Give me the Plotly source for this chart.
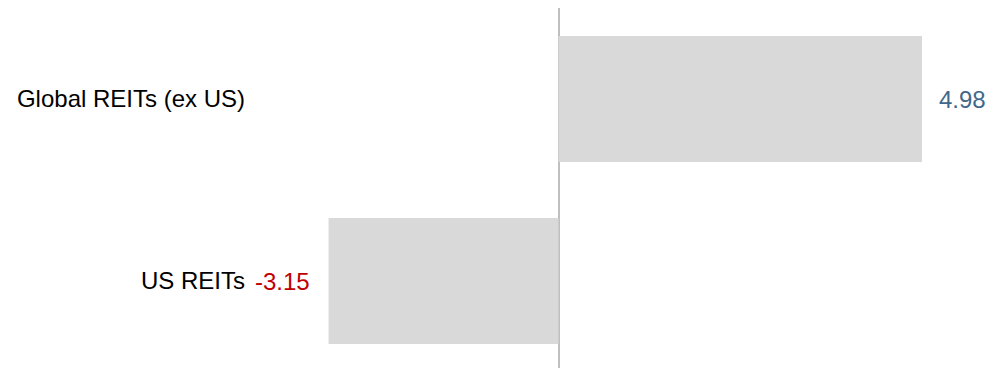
import plotly.graph_objects as go

categories = ["US REITs", "Global REITs (ex US)"]
values = [-3.15, 4.98]
label_colors = ["#c00000", "#41688a"]

FONT = "Liberation Sans, Arial, sans-serif"
FS = 24
PX_PER_UNIT = 73.0
L = 238
W = 1004
ZERO_PX = 550.5
x_min = -(ZERO_PX - L) / PX_PER_UNIT
x_max = (W - ZERO_PX) / PX_PER_UNIT

fig = go.Figure()
fig.add_trace(go.Bar(
    y=categories, x=values, orientation="h",
    marker=dict(color="#d9d9d9", line=dict(width=0)),
    hoverinfo="skip",
))

for c, v, col in zip(categories, values, label_colors):
    fig.add_annotation(
        x=v, y=c, text=f"{v:.2f}", showarrow=False,
        xanchor="left" if v >= 0 else "right",
        xshift=15 if v >= 0 else -17,
        font=dict(color=col, size=FS, family=FONT),
    )

fig.update_layout(
    width=1004, height=368,
    margin=dict(l=L, r=0, t=0, b=8),
    paper_bgcolor="white", plot_bgcolor="white",
    bargap=0.308,
    showlegend=False,
    font=dict(family=FONT, size=FS, color="#000000"),
    xaxis=dict(range=[x_min, x_max], showgrid=False, showticklabels=False,
               zeroline=True, zerolinecolor="#bfbfbf", zerolinewidth=2,
               showline=False, fixedrange=True),
    yaxis=dict(categoryorder="array", categoryarray=categories,
               range=[-0.478, 1.5], showgrid=False, zeroline=False,
               showline=False, ticks="", tickfont=dict(size=FS, color="#000000")),
)

fig.write_html("out.html")
